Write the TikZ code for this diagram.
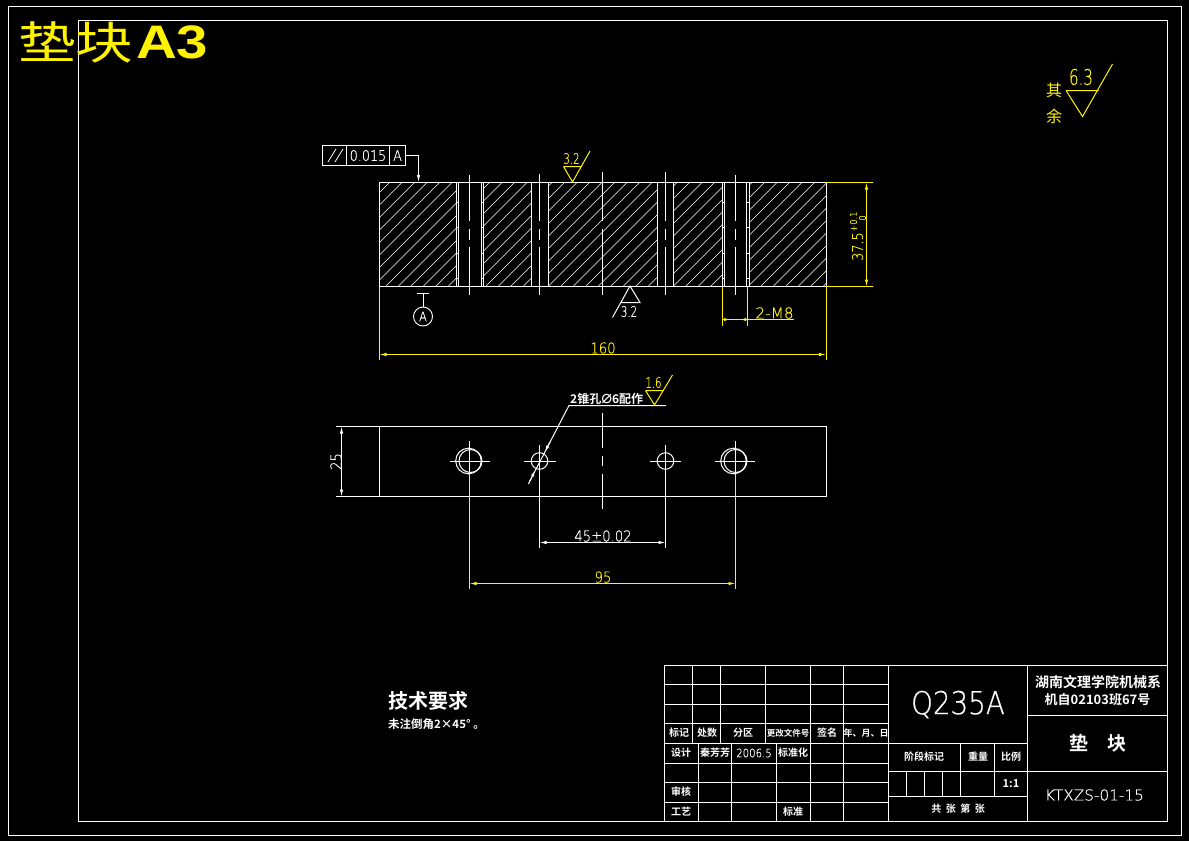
\documentclass[tikz,border=0pt]{standalone}
\usepackage{fontspec}
\usetikzlibrary{arrows.meta}
\usetikzlibrary{positioning}
\setmainfont{DejaVu Sans ExtraLight}
\newfontfamily\cjkfont{Noto Sans CJK SC Bold}
\newfontfamily\bigcjkfont{Noto Sans CJK SC}[FakeStretch=1.28]
\newfontfamily\smallcjkfont{Noto Sans CJK SC}
\newfontfamily\titlefont{Liberation Sans Bold}[FakeStretch=1.2]
\newfontfamily\cadfont{DejaVu Sans ExtraLight}[FakeStretch=0.88,FakeBold=0.4]
\newfontfamily\cadnarrow{DejaVu Sans ExtraLight}[FakeStretch=0.7,FakeBold=0.4]
\newfontfamily\cadwide{DejaVu Sans ExtraLight}[FakeStretch=1.02,FakeBold=0.4]
\newfontfamily\symfont{DejaVu Sans}
\newcommand{\fs}[1]{\fontsize{#1}{#1}\selectfont}
\tikzset{
    part/.style={draw=white, line width=1pt},
    center/.style={draw=white, line width=0.9pt},
    thin part/.style={draw=white, line width=0.8pt},
    dimy/.style={draw=yellow, line width=1pt},
    dimw/.style={draw=white, line width=1pt},
    tip/.style={{Latex[length=7pt,width=3.5pt]}-{Latex[length=7pt,width=3.5pt]}},
    label/.style={inner sep=0pt, text=white, font=\cadfont\fs{#1}},
    label/.default=15,
    ylabel/.style={inner sep=0pt, text=yellow, font=\cadfont\fs{#1}},
    ylabel/.default=15,
    narrow/.style={font=\cadnarrow\fs{#1}},
    wide/.style={font=\cadwide\fs{#1}},
    cjk/.style={inner sep=0pt, text=white, font=\cjkfont\fs{#1}},
    cjk/.default=10,
    cell/.style={draw=white, line width=1pt, inner sep=0pt, minimum height=20pt, text=white, font=\cadfont\fs{14.5}},
}
\begin{document}
\begin{tikzpicture}[x=1pt,y=-1pt]
    \useasboundingbox (0,0) rectangle (1189,841);
    \fill[black] (0,0) rectangle (1189,841);
    % sheet frames
    \draw[thin part] (8,6) rectangle (1181.5,835);
    \draw[part] (78.5,20.5) rectangle (1167.5,821.5);
    % big title
    \node[anchor=west, inner sep=0pt, text=yellow, font=\bigcjkfont\fs{45}] (TITLE_CJK) at (18,42) {垫块};
    \node[anchor=west, inner sep=0pt, text=yellow, font=\titlefont\fs{47}] (TITLE_A3) at (136,42) {A3};

    % SECTION VIEW
    % hatch each solid piece, lines run at 45 degrees
    \foreach \xa/\xb in {379.5/456,483.5/531.5,548.5/657.5,673.5/722,749.5/826}{
        \begin{scope}
            \clip (\xa,182) rectangle (\xb,286);
            \foreach \k in {0,...,54}{
                \draw[white, line width=0.5pt] ({572+12.5*\k-182},182) -- ({572+12.5*\k-286},286);
            }
        \end{scope}
    }
    \foreach \xa in {456,458.5,481.5,483.5,531.5,548.5,657.5,673.5,722,724.5,746.5,749.5}{
        \draw[part] (\xa,182) -- (\xa,286);
    }
    \draw[part] (379.5,182.5) rectangle (826,286.5);
    % thread ticks
    \foreach \yy in {202,227,253,278}{
        \draw[thin part] (456,\yy) -- (458.5,\yy);
        \draw[thin part] (481.5,\yy) -- (483.5,\yy);
        \draw[thin part] (722,\yy) -- (724.5,\yy);
        \draw[thin part] (746.5,\yy) -- (749.5,\yy);
    }
    % center lines
    \foreach \xx/\ya/\yb in {469.5/175/295,539.5/174/295,665.5/172/295,735.5/175/295}{
        \draw[center] (\xx,\ya) -- (\xx,221) (\xx,229) -- (\xx,240) (\xx,247) -- (\xx,\yb);
    }
    \draw[center] (602.5,172) -- (602.5,221) (602.5,229) -- (602.5,295);

    % flatness frame
    \node[cell, minimum width=24.5pt] (FCF_SYM) at (334.5,155.5) {};
    \node[cell, minimum width=42.5pt, right=-1pt of FCF_SYM] (FCF_VAL) {0.015};
    \node[cell, minimum width=16.5pt, right=-1pt of FCF_VAL] (FCF_DAT) {A};
    \draw[thin part] (328,162) -- (336,149) (335,162) -- (343,149);
    \coordinate (FCF_END) at (418.5,182);
    \draw[dimw, -{Latex[length=7pt,width=3.5pt]}] (FCF_DAT.east) -| (FCF_END);

    % datum A
    \node[circle, draw=white, line width=0.9pt, minimum size=19pt, inner sep=0pt, text=white, font=\cadfont\fs{13}] (DATUM) at (423,316.5) {A};
    \coordinate (DATUM_TOP) at (423,293.5);
    \draw[dimw] (DATUM.north) -- (DATUM_TOP);
    \draw[dimw] (416.5,293.5) -- (429,293.5);

    % roughness marks
    \draw[dimy] (563.5,166.5) -- (581.5,166.5) (563.5,166.5) -- (572.5,182) -- (590,151);
    \node[ylabel, narrow=14.5] (RA_TOP) at (571.5,158.5) {3.2};
    \draw[dimw] (621,302.5) -- (640,302.5) -- (630,286) -- (612.5,317.5);
    \node[label, narrow=14.5] (RA_BOT) at (629,311.5) {3.2};
    \draw[dimy] (645.5,390.5) -- (663.5,390.5) (645.5,390.5) -- (654.5,405) -- (672.5,375);
    \node[ylabel, narrow=14.5] (RA_HOLE) at (653.5,382.5) {1.6};
    \draw[dimy] (1066,90.5) -- (1098.5,90.5) (1066,90.5) -- (1082.5,116.5) -- (1112.5,64);
    \node[ylabel, narrow=21.5] (RA_REST) at (1081,77) {6.3};
    \node[inner sep=0pt, text=yellow, font=\smallcjkfont\fs{16}] (QI) at (1054,90) {其};
    \node[inner sep=0pt, text=yellow, font=\smallcjkfont\fs{16}] (YU) at (1054,116) {余};

    % yellow dimensions of section view
    \draw[dimy] (826,182.5) -- (873,182.5) (826,286.5) -- (873,286.5);
    \draw[dimy, tip] (866.5,182.5) -- (866.5,286.5);
    \node[ylabel=14.5, rotate=90] (DIM_H) at (857.5,246.5) {37.5};
    \node[ylabel=9.5, rotate=90, anchor=west] (DIM_HP) at (853.5,232) {+0.1};
    \node[ylabel=9.5, rotate=90] (DIM_HM) at (862.5,218) {0};

    \draw[dimy] (379.5,286.5) -- (379.5,360) (826,286.5) -- (826,360);
    \draw[dimy, tip] (379.5,354.5) -- (826,354.5);
    \node[ylabel] (DIM_L) at (603,348) {160};

    \draw[dimy] (722.5,286.5) -- (722.5,326) (747.5,286.5) -- (747.5,326);
    \draw[dimy] (722.5,319.5) -- (794,319.5);
    \draw[dimy, {Latex[length=5pt,width=3.5pt]}-] (729,319.5) -- (722.5,319.5);
    \draw[dimy, {Latex[length=5pt,width=3.5pt]}-] (741,319.5) -- (747.5,319.5);
    \node[ylabel, wide=15] (DIM_M8) at (774.5,313) {2-M8};

    % PLAN VIEW
    \draw[part] (379.5,426.5) rectangle (826,496.5);
    \draw[dimw] (336,426.5) -- (379.5,426.5) (336,496.5) -- (379.5,496.5);
    \draw[dimw, tip] (341.5,426.5) -- (341.5,496.5);
    \node[label, rotate=90] (DIM_W) at (336,461.5) {25};

    % holes
    \coordinate (H1) at (469.5,461);
    \coordinate (H2) at (539.5,461);
    \coordinate (H3) at (665.5,461);
    \coordinate (H4) at (735.5,461);
    \draw[part] (470.5,461) circle (11.5);
    \draw[part] (735.5,461) circle (11.5);
    \draw[part] (468.5,461) circle (12.8);
    \draw[part] (733.5,461) circle (12.8);
    \draw[part] (H2) circle (8.3) (H3) circle (8.3);
    \draw[center] (450,461) -- (490,461) (715,461) -- (755,461);
    \draw[center] (524,461) -- (556,461) (650,461) -- (681,461);
    \draw[center] (469.5,441) -- (469.5,475) (735.5,441) -- (735.5,475);
    \draw[center] (539.5,445) -- (539.5,548) (665.5,445) -- (665.5,548);
    \draw[center] (602.5,413) -- (602.5,448) (602.5,456) -- (602.5,466) (602.5,474) -- (602.5,509);

    % leader for pin holes
    \coordinate (LD_START) at (528.3,484);
    \coordinate (LD_KNEE) at (569,405.5);
    \coordinate (LD_END) at (666,405.5);
    \draw[dimw] (LD_START) -- (LD_KNEE) -- (LD_END);
    \draw[dimw, -{Latex[length=6pt,width=3.5pt]}] (530,481) -- (535,470.5);
    \draw[dimw, -{Latex[length=6pt,width=3.5pt]}] (550,442) -- (545,451.5);
    \node[inner sep=0pt, text=white, font=\cjkfont\fs{12}, anchor=west] (LD_TEXT) at (570,398.5) {2锥孔{\symfont\fs{18}⌀}6配作};

    % plan dimensions
    \draw[dimw, tip] (539.5,542.5) -- (665.5,542.5);
    \node[label] (DIM_45) at (603,536) {45±0.02};
    \draw[dimy] (469.5,475) -- (469.5,588.5) (735.5,475) -- (735.5,588.5);
    \draw[dimy, tip] (469.5,583.5) -- (735.5,583.5);
    \node[ylabel] (DIM_95) at (603,577) {95};

    % NOTES
    \node[cjk=20, anchor=west] (NOTE_HEAD) at (388,701) {技术要求};
    \node[cjk=11.5, anchor=west] (NOTE_BODY) at (388,724) {未注倒角2×45° 。};

    % TITLE BLOCK
    \draw[part] (664.5,665.5) rectangle (1167.5,821.5);
    \foreach \yy in {684.5,704.5,723.5,743.5,763.5,782.5,802.5}{
        \draw[part] (664.5,\yy) -- (888.5,\yy);
    }
    \foreach \xx in {692.5,720.5,765.5,810.5,843.5}{
        \draw[part] (\xx,665.5) -- (\xx,743.5);
    }
    \foreach \xx in {698.5,731.5,776.5,810.5,843.5}{
        \draw[part] (\xx,743.5) -- (\xx,821.5);
    }
    \draw[part] (888.5,665.5) -- (888.5,821.5) (1027.5,665.5) -- (1027.5,821.5);
    \draw[part] (888.5,743.5) -- (1027.5,743.5) (888.5,771.5) -- (1167.5,771.5);
    \draw[part] (888.5,796.5) -- (1027.5,796.5) (1027.5,715.5) -- (1167.5,715.5);
    \draw[part] (960.5,743.5) -- (960.5,796.5) (994.5,743.5) -- (994.5,796.5);
    \draw[part] (906.5,771.5) -- (906.5,796.5) (924.5,771.5) -- (924.5,796.5) (942.5,771.5) -- (942.5,796.5);

    \foreach \nam/\xx/\yy/\txt in {
        TB_A/679/733/标记, TB_B/707/733/处数, TB_C/743/733/分区,
        TB_E/827/733/签名, TB_G/681/753/设计,
        TB_H/715/753/秦芳芳, TB_I/793/753/标准化,
        TB_J/681/792/审核, TB_K/681/812/工艺, TB_L/793/812/标准,
        TB_M/924/757/阶段标记, TB_N/978/757/重量, TB_O/1011/757/比例}{
        \node[cjk] (\nam) at (\xx,\yy) {\txt};
    }
    \node[cjk=8.5] (TB_D) at (788,733) {更改文件号};
    \node[cjk=9] (TB_F) at (866,733) {年、月、日};
    \node[label=11.5] (TB_DATE) at (754,753) {2006.5};
    \node[cjk=11] (TB_SCALE) at (1011,784) {1:1};
    \node[cjk=10] (TB_SHEET) at (958,809) {共\hspace{.45em}张\hspace{.45em}第\hspace{.45em}张};
    \node[label=31.5] (TB_MAT) at (958,704.5) {Q235A};
    \node[cjk=14] (TB_SCHOOL) at (1098,682) {湖南文理学院机械系};
    \node[cjk=13] (TB_CLASS) at (1097.5,700) {机自02103班67号};
    \node[cjk=19] (TB_NAME) at (1098,743) {垫\hspace{1em}块};
    \node[label, wide=15] (TB_CODE) at (1094.5,795) {KTXZS-01-15};
\end{tikzpicture}
\end{document}
